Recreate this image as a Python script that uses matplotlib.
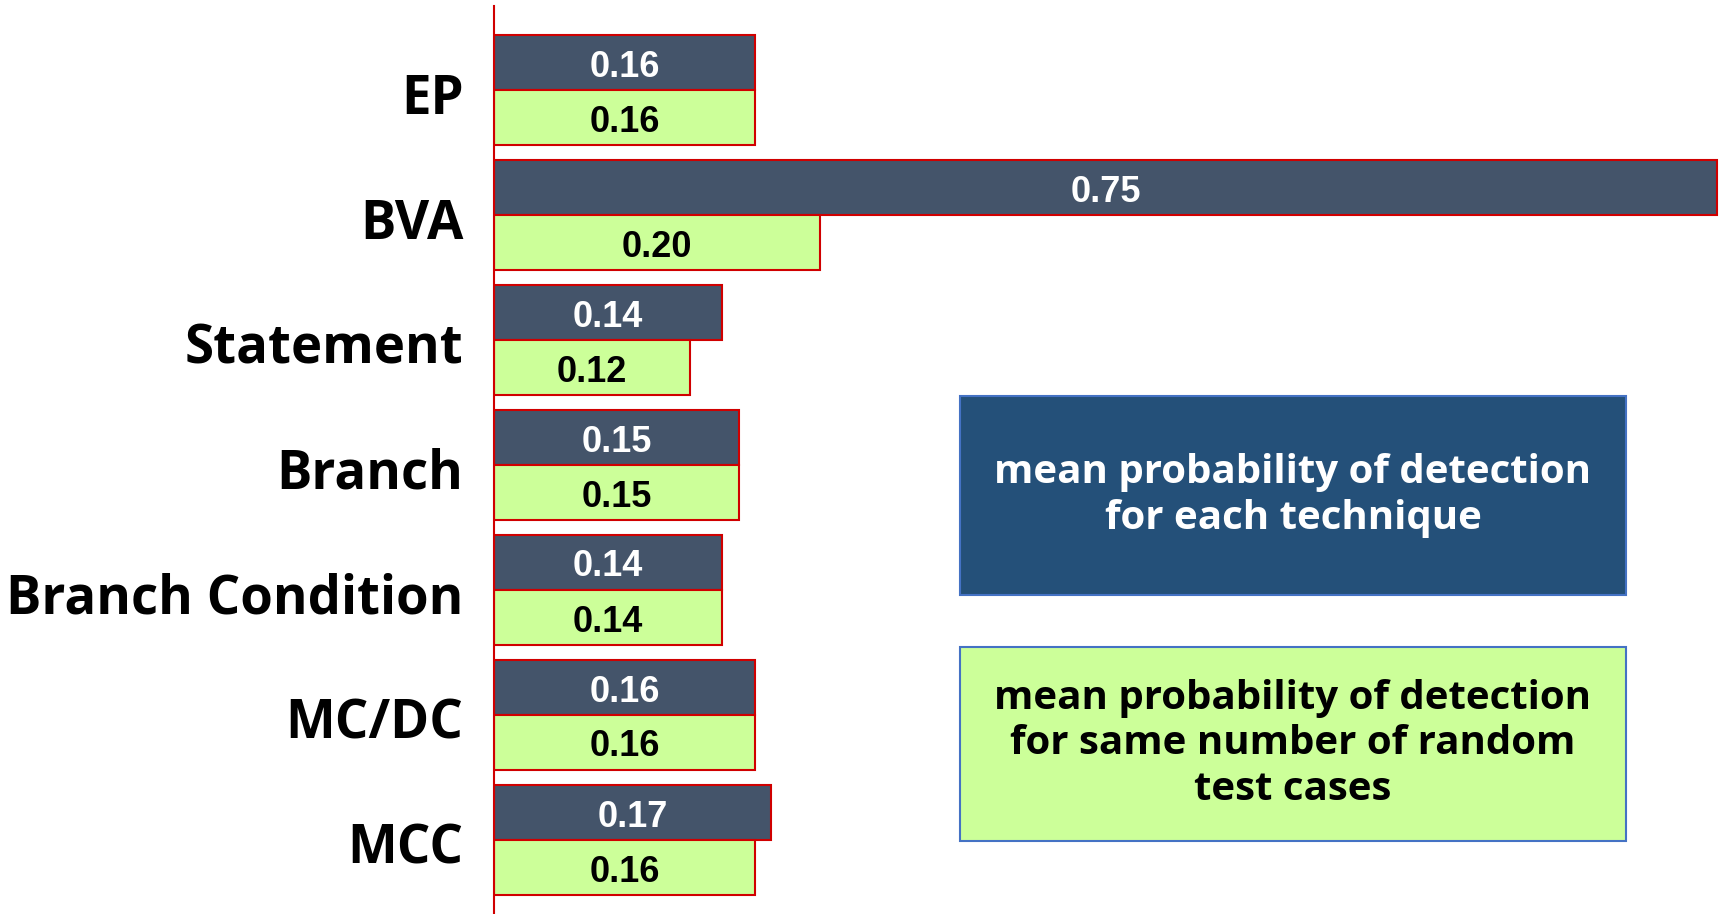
import numpy as np
import matplotlib
matplotlib.use('Agg')
import matplotlib.pyplot as plt
from matplotlib.patches import Rectangle

# ── Data ──────────────────────────────────────────────────────────────────────
techniques  = ['EP', 'BVA', 'Statement', 'Branch', 'Branch Condition', 'MC/DC', 'MCC']
technique_p = [0.16, 0.75, 0.14, 0.15, 0.14, 0.16, 0.17]   # per technique
random_p    = [0.16, 0.20, 0.12, 0.15, 0.14, 0.16, 0.16]   # same number of random tests

legend_dark  = 'mean probability of detection\nfor each technique'
legend_green = 'mean probability of detection\nfor same number of random\ntest cases'

# ── Styles ────────────────────────────────────────────────────────────────────
c_dark  = '#44546A'
c_green = '#CCFF99'
c_edge  = '#D00000'
c_box   = '#245079'
c_boxed = '#4472C4'

W, H = 1725, 914
fig = plt.figure(figsize=(W / 100, H / 100), dpi=100, facecolor='white')

x0 = 494            # axis line position (px)
y_top = 6           # top of axis line (px)
ax = fig.add_axes([x0 / W, 0, 1 - x0 / W, (H - y_top) / H])

y = np.arange(len(techniques))
bh = 0.44
ax.barh(y - bh / 2, technique_p, height=bh, color=c_dark,
        edgecolor=c_edge, linewidth=1.5, zorder=2)
ax.barh(y + bh / 2, random_p, height=bh, color=c_green,
        edgecolor=c_edge, linewidth=1.5, zorder=2)

dy = 0.04   # text sits a touch below the bar centre
for yi, v in zip(y, technique_p):
    ax.text(v / 2, yi - bh / 2 + dy, f'{v:.2f}', ha='center', va='center',
            color='white', fontsize=26, fontweight='bold',
            family='Liberation Sans', zorder=3)
for yi, v in zip(y, random_p):
    ax.text(v / 2, yi + bh / 2 + dy, f'{v:.2f}', ha='center', va='center',
            color='black', fontsize=26, fontweight='bold',
            family='Liberation Sans', zorder=3)

ax.set_xlim(0, (W - x0) / 1631)
ax.set_ylim(6.596, -0.668)
ax.set_yticks(y + 0.03)
ax.set_yticklabels(techniques, fontsize=38, fontweight='bold', family='Open Sans')
ax.tick_params(axis='y', length=0, pad=22)
ax.set_xticks([])
for s in ['top', 'right', 'bottom']:
    ax.spines[s].set_visible(False)
ax.spines['left'].set_color(c_edge)
ax.spines['left'].set_linewidth(1.5)
ax.set_facecolor('none')

# ── Legend boxes ─────────────────────────────────────────────────────────────
bx0, bx1 = 960, 1626
boxes = [(396, 595, c_box, c_boxed, 'white', legend_dark),
         (647, 841, c_green, c_boxed, 'black', legend_green)]
for top, bot, fc, ec, tc, txt in boxes:
    fig.patches.append(Rectangle((bx0 / W, 1 - bot / H), (bx1 - bx0) / W,
                                 (bot - top) / H, transform=fig.transFigure,
                                 facecolor=fc, edgecolor=ec, linewidth=1.5))
    fig.text((bx0 + bx1) / 2 / W, 1 - (top + bot) / 2 / H, txt,
             ha='center', va='center', color=tc, fontsize=29,
             fontweight='bold', family='Open Sans', linespacing=1.2)

plt.savefig('out.png', dpi=100, facecolor='white')
plt.close()
